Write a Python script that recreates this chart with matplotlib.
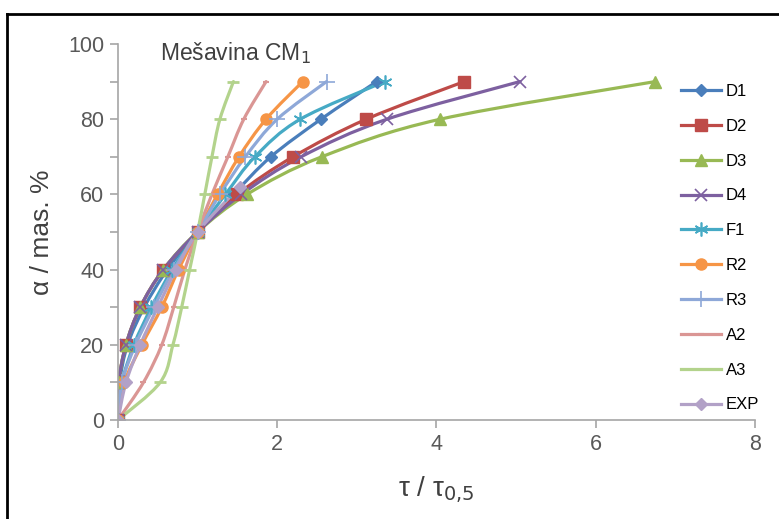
import matplotlib
matplotlib.use("Agg")
import matplotlib.pyplot as plt
from matplotlib.path import Path
from matplotlib.patches import PathPatch
from matplotlib.lines import Line2D
from matplotlib.ticker import MultipleLocator

plt.rcParams['font.family'] = ['Liberation Sans', 'DejaVu Sans']

# stupnjevi konverzije (mas. %)
alfa = [0, 10, 20, 30, 40, 50, 60, 70, 80, 90]

# tau / tau_0,5 za svaki model
d1 = [0, 0.02, 0.12, 0.33, 0.62, 1.0, 1.45, 1.92, 2.55, 3.25]
d2 = [0, 0.01, 0.10, 0.28, 0.57, 1.0, 1.50, 2.20, 3.12, 4.35]
d3 = [0, 0.01, 0.10, 0.28, 0.57, 1.0, 1.62, 2.56, 4.05, 6.75]
d4 = [0, 0.01, 0.10, 0.28, 0.57, 1.0, 1.55, 2.30, 3.38, 5.05]
f1 = [0, 0.05, 0.20, 0.42, 0.68, 1.0, 1.35, 1.72, 2.29, 3.35]
r2 = [0, 0.08, 0.30, 0.55, 0.76, 1.0, 1.25, 1.52, 1.86, 2.32]
r3 = [0, 0.05, 0.22, 0.45, 0.70, 1.0, 1.28, 1.60, 2.00, 2.62]
a2 = [0, 0.32, 0.55, 0.70, 0.84, 1.0, 1.18, 1.38, 1.58, 1.86]
a3 = [0, 0.53, 0.69, 0.80, 0.90, 1.0, 1.09, 1.18, 1.28, 1.45]

exp_x = [0, 0.10, 0.28, 0.50, 0.73, 1.0, 1.53]
exp_y = [0, 10, 20, 30, 40, 50, 62]

serije = [
    ("D1", d1, alfa, "#4A7EBB", "D", 6, 1.0),
    ("D2", d2, alfa, "#BE4B48", "s", 8, 1.0),
    ("D3", d3, alfa, "#98B954", "^", 9, 1.0),
    ("D4", d4, alfa, "#7D60A0", "x", 9, 1.2),
    ("F1", f1, alfa, "#46AAC5", (6, 2, 0), 10, 1.2),
    ("R2", r2, alfa, "#F69546", "o", 8, 1.0),
    ("R3", r3, alfa, "#8EA8D8", "+", 11, 1.2),
    ("A2", a2, alfa, "#DA9694", "_", 5, 1.5),
    ("A3", a3, alfa, "#B3D38C", "_", 8, 2.0),
    ("EXP", exp_x, exp_y, "#B2A1C7", "D", 6, 1.0),
]


def glatka_linija(x, y):
    # Excel-ova "smooth line": Catmull-Rom preko Bezier krivulja
    pts = list(zip(x, y))
    verts = [pts[0]]
    codes = [Path.MOVETO]
    n = len(pts)
    for i in range(n - 1):
        p0 = pts[i - 1] if i > 0 else pts[i]
        p1 = pts[i]
        p2 = pts[i + 1]
        p3 = pts[i + 2] if i + 2 < n else pts[i + 1]
        c1 = (p1[0] + (p2[0] - p0[0]) / 6, p1[1] + (p2[1] - p0[1]) / 6)
        c2 = (p2[0] - (p3[0] - p1[0]) / 6, p2[1] - (p3[1] - p1[1]) / 6)
        verts += [c1, c2, p2]
        codes += [Path.CURVE4] * 3
    return Path(verts, codes)


fig = plt.figure(figsize=(7.79, 5.19), dpi=100)
ax = fig.add_axes([0.1515, 0.1908, 0.8175, 0.7245])

rucke = []
for ime, x, y, boja, mk, ms, mew in serije:
    ax.add_patch(PathPatch(glatka_linija(x, y), fill=False, edgecolor=boja,
                           lw=2.3, capstyle="round", joinstyle="round"))
    ax.plot(x, y, linestyle="none", marker=mk, ms=ms, color=boja,
            markeredgecolor=boja, markeredgewidth=mew)
    rucke.append(Line2D([], [], color=boja, lw=2.3, marker=mk, ms=ms,
                        markeredgecolor=boja, markeredgewidth=mew, label=ime))

ax.set_xlim(0, 8)
ax.set_ylim(0, 100)
ax.xaxis.set_major_locator(MultipleLocator(2))
ax.yaxis.set_major_locator(MultipleLocator(20))
ax.yaxis.set_minor_locator(MultipleLocator(10))

for s in ["top", "right"]:
    ax.spines[s].set_visible(False)
for s in ["left", "bottom"]:
    ax.spines[s].set_color("#A6A6A6")
    ax.spines[s].set_linewidth(1.2)
ax.tick_params(which="both", direction="out", length=6, width=1.2,
               color="#A6A6A6", labelsize=15.5, labelcolor="#595959", pad=4)

ax.set_xlabel(r"τ / τ$_{0{,}5}$", fontsize=20, color="#404040", labelpad=14)
ax.set_ylabel("α / mas. %", fontsize=19, color="#404040", labelpad=10)

ax.text(0.53, 97.5, r"Mešavina CM$_1$", fontsize=16.5, color="#404040",
        ha="left", va="center")

fig.legend(handles=rucke, loc="upper left", bbox_to_anchor=(0.865, 0.851),
           frameon=False, fontsize=12, handlelength=2.4, labelspacing=1.19,
           handletextpad=0.3, borderaxespad=0)

# crni okvir (lijevo i gore)
fig.add_artist(Line2D([0.0096, 0.0096], [0, 0.973], color="black", lw=2,
                      transform=fig.transFigure))
fig.add_artist(Line2D([0.0096, 1.0], [0.973, 0.973], color="black", lw=2,
                      transform=fig.transFigure))

fig.savefig("out.png", dpi=100)
